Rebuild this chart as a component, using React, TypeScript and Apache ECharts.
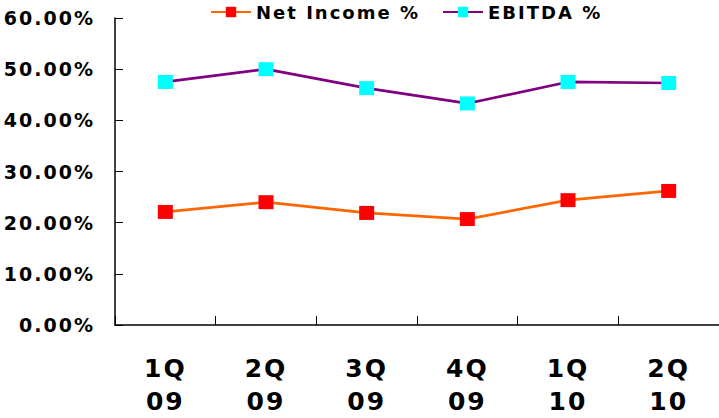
import React, { useEffect, useRef } from "react";
import * as echarts from "echarts";

const quarters = ["1Q\n09", "2Q\n09", "3Q\n09", "4Q\n09", "1Q\n10", "2Q\n10"];
const netIncomePct = [22.1, 24.0, 21.9, 20.7, 24.4, 26.2];
const ebitdaPct = [47.5, 50.0, 46.3, 43.3, 47.5, 47.3];
const yTicks = { min: 0, max: 60, interval: 10 };
const seriesNames = ["Net Income %", "EBITDA %"];

const FONT = "DejaVu Sans";

const legendText = { fontFamily: FONT, fontWeight: "bold" as const, fontSize: 18, color: "#000" };

export default function App() {
  const ref = useRef<HTMLDivElement>(null);

  useEffect(() => {
    if (!ref.current) return;
    const chart = echarts.init(ref.current, undefined, { renderer: "svg" });
    chart.setOption({
      animation: false,
      backgroundColor: "#ffffff",
      textStyle: { fontFamily: FONT, fontWeight: "bold", color: "#000" },
      legend: [
        {
          left: 210,
          top: 3,
          padding: 0,
          itemWidth: 40,
          itemHeight: 13,
          textStyle: legendText,
          data: [seriesNames[0]],
        },
        {
          left: 442,
          top: 3,
          padding: 0,
          itemWidth: 40,
          itemHeight: 13,
          textStyle: legendText,
          data: [seriesNames[1]],
        },
      ],
      grid: { left: 115, right: 0, top: 18, bottom: 92, containLabel: false },
      xAxis: {
        type: "category",
        data: quarters,
        boundaryGap: true,
        axisLine: { lineStyle: { color: "#000", width: 1.5 } },
        axisTick: { show: true, inside: true, length: 9, lineStyle: { color: "#000", width: 1 } },
        axisLabel: {
          interval: 0,
          margin: 27,
          fontFamily: FONT,
          fontWeight: "bold",
          fontSize: 25,
          lineHeight: 33,
          color: "#000",
        },
        splitLine: { show: false },
      },
      yAxis: {
        type: "value",
        min: yTicks.min,
        max: yTicks.max,
        interval: yTicks.interval,
        axisLine: { show: true, lineStyle: { color: "#000", width: 1.5 } },
        axisTick: { show: true, inside: true, length: 8, lineStyle: { color: "#000", width: 1 } },
        axisLabel: {
          margin: 20,
          fontFamily: FONT,
          fontWeight: "bold",
          fontSize: 19,
          color: "#000",
          formatter: (v: number) => v.toFixed(2) + "%",
        },
        splitLine: { show: false },
      },
      series: [
        {
          name: seriesNames[0],
          type: "line",
          data: netIncomePct,
          symbol: "rect",
          symbolSize: [15, 14],
          lineStyle: { color: "#FF6600", width: 2.7 },
          itemStyle: { color: "#FF0000" },
        },
        {
          name: seriesNames[1],
          type: "line",
          data: ebitdaPct,
          symbol: "rect",
          symbolSize: [15, 14],
          lineStyle: { color: "#800080", width: 2.7 },
          itemStyle: { color: "#00FFFF" },
        },
      ],
    });
    return () => chart.dispose();
  }, []);

  return (
    <>
      <style>{`.margin-chart svg text { letter-spacing: 2px; }`}</style>
      <div
        ref={ref}
        className="margin-chart"
        style={{ position: "fixed", left: 0, top: 0, width: 719, height: 418 }}
      />
    </>
  );
}
